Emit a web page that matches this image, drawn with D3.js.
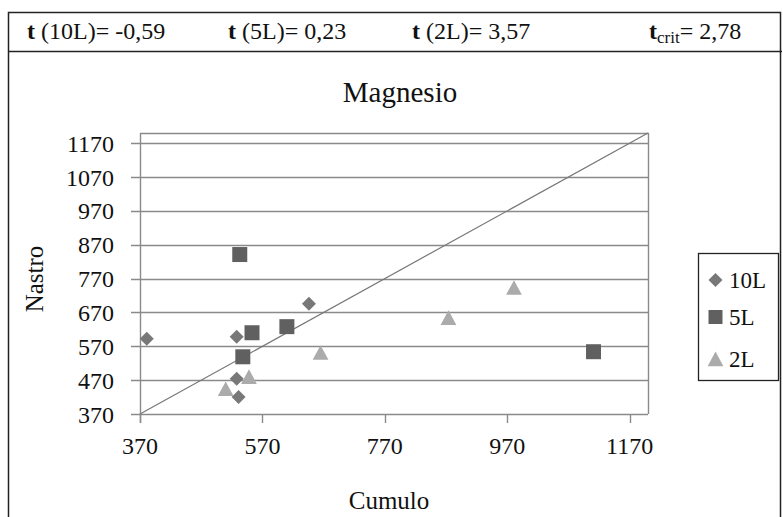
<!DOCTYPE html>
<html><head><meta charset="utf-8">
<script src="https://cdn.jsdelivr.net/npm/d3@7"></script>
<style>body{margin:0;background:#fff}svg{display:block}text{font-family:"Liberation Serif","Times New Roman",serif;fill:#111}</style>
</head><body><div id="c"></div>
<script>
const series = ["10L","5L","2L"];
const x10L = [381, 528, 528, 531, 646];
const y10L = [592, 598, 474, 420, 696];
const x5L = [533, 553, 538, 610, 1111];
const y5L = [841, 610, 539, 628, 554];
const x2L = [510, 548, 665, 874, 981];
const y2L = [444, 480, 551, 654, 743];
const xTicks = [370, 570, 770, 970, 1170];
const yTicks = [370, 470, 570, 670, 770, 870, 970, 1070, 1170];
const tStats = [["10L","-0,59"],["5L","0,23"],["2L","3,57"]];
const tCrit = "2,78";

const W = 783, H = 517;
const svg = d3.select("#c").append("svg").attr("width", W).attr("height", H);
const x = d3.scaleLinear().domain([370, 1200]).range([140, 648]);
const y = d3.scaleLinear().domain([370, 1200]).range([414, 133]);

function txt(g, s, tx, ty, size, anchor, rot) {
  const t = g.append("text").attr("transform", `translate(${tx},${ty})${rot ? " rotate(" + rot + ")" : ""}`)
    .attr("font-size", size).attr("text-anchor", anchor || "start");
  t.text(s);
  return t;
}

// outer frame
svg.append("rect").attr("x", 8.5).attr("y", 12.5).attr("width", 772).attr("height", 520).attr("fill", "none").attr("stroke", "#222").attr("stroke-width", 1.5);
svg.append("line").attr("x1", 8).attr("x2", 782).attr("y1", 51.5).attr("y2", 51.5).attr("stroke", "#222").attr("stroke-width", 1.5);

// header
const hx = [27, 228, 412];
tStats.forEach((d, i) => {
  const t = svg.append("text").attr("transform", `translate(${hx[i]},39)`).attr("font-size", 24);
  t.append("tspan").attr("font-weight", "bold").text("t");
  t.append("tspan").text(` (${d[0]})= ${d[1]}`);
});
{
  const t = svg.append("text").attr("transform", `translate(649,39)`).attr("font-size", 24);
  t.append("tspan").attr("font-weight", "bold").text("t");
  t.append("tspan").attr("font-size", 17).attr("dy", 4).text("crit");
  t.append("tspan").attr("dy", -4).text("= " + tCrit);
}

// title
txt(svg, "Magnesio", 400, 102, 29, "middle");

// gridlines
const g = svg.append("g");
g.selectAll(".grid").data(yTicks).join("line")
  .attr("x1", x(370) - 9).attr("x2", x(1200))
  .attr("y1", d => Math.round(y(d)) + 0.5).attr("y2", d => Math.round(y(d)) + 0.5)
  .attr("stroke", "#8a8a8a").attr("stroke-width", 1.4);
// plot border top/right
g.append("path").attr("d", `M${x(370)},${y(1200)+0.5}H${x(1200)+0.5}V${y(370)}`).attr("fill", "none").attr("stroke", "#8a8a8a").attr("stroke-width", 1.4);
// y axis line
g.append("line").attr("x1", x(370)+0.5).attr("x2", x(370)+0.5).attr("y1", y(1200)).attr("y2", y(370) + 9).attr("stroke", "#8a8a8a").attr("stroke-width", 1.4);
// x ticks
g.selectAll(".xt").data(xTicks).join("line")
  .attr("x1", d => Math.round(x(d)) + 0.5).attr("x2", d => Math.round(x(d)) + 0.5)
  .attr("y1", y(370)).attr("y2", y(370) + 9).attr("stroke", "#8a8a8a").attr("stroke-width", 1.4);

// tick labels
yTicks.forEach(v => txt(svg, String(v), 114, y(v) + 8.5, 24, "end"));
xTicks.forEach(v => txt(svg, String(v), x(v), 454, 24, "middle"));

// axis titles
txt(svg, "Cumulo", 389, 509, 25, "middle");
txt(svg, "Nastro", 43, 279, 25, "middle", -90);

// diagonal
g.append("line").attr("x1", x(370)).attr("y1", y(370)).attr("x2", x(1200)).attr("y2", y(1200)).attr("stroke", "#777").attr("stroke-width", 1.2);

// markers
const colors = {"10L": "#787878", "5L": "#606060", "2L": "#ababab"};
function shape(k, s) {
  if (k === "10L") return `M0,${-s}L${s},0L0,${s}L${-s},0Z`;
  if (k === "5L") return `M${-s},${-s}H${s}V${s}H${-s}Z`;
  return `M0,${-s}L${s*1.05},${s*0.95}H${-s*1.05}Z`;
}
function pts(xs, ys) { return xs.map((v, i) => [v, ys[i]]); }
const data = {"10L": pts(x10L, y10L), "5L": pts(x5L, y5L), "2L": pts(x2L, y2L)};
const msize = {"10L": 7, "5L": 7.5, "2L": 7.5};
series.forEach(k => {
  g.selectAll(".m" + k).data(data[k]).join("path")
    .attr("transform", d => `translate(${x(d[0])},${y(d[1])})`)
    .attr("d", shape(k, msize[k])).attr("fill", colors[k]);
});

// legend
svg.append("rect").attr("x", 698.5).attr("y", 253.5).attr("width", 80).attr("height", 127).attr("fill", "#fff").attr("stroke", "#222").attr("stroke-width", 1.3);
const ly = [280, 317, 359];
const lsize = {"10L": 7, "5L": 7, "2L": 7.5};
series.forEach((k, i) => {
  svg.append("path").attr("transform", `translate(715.5,${ly[i]})`).attr("d", shape(k, lsize[k])).attr("fill", colors[k]);
  txt(svg, k, 729, ly[i] + 8, 23, "start");
});
</script></body></html>
